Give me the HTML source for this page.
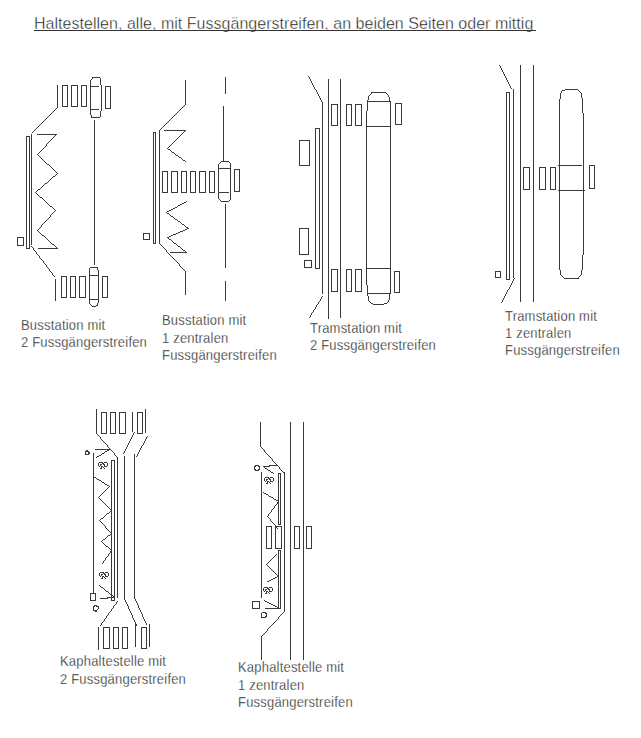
<!DOCTYPE html>
<html><head><meta charset="utf-8"><style>
html,body{margin:0;padding:0;background:#fff;}
body{width:641px;height:738px;position:relative;overflow:hidden;}
svg{position:absolute;left:0;top:0;}
.lbl{font-family:"Liberation Sans",sans-serif;font-size:13px;fill:#111;letter-spacing:0.2px;stroke:#fff;stroke-width:0.28px;}
.title{font-family:"Liberation Sans",sans-serif;font-size:16px;fill:#111;letter-spacing:0.03px;stroke:#fff;stroke-width:0.4px;}
</style></head><body>
<svg width="641" height="738" viewBox="0 0 641 738"><path fill="#3a3a3a" shape-rendering="crispEdges" d="M17 237h1v9h-1zM23 237h1v9h-1zM26 136h1v113h-1zM29 136h1v113h-1zM31 134h1v111h-1zM55 279h1v22h-1zM57 85h1v23h-1zM61 276h1v22h-1zM62 85h1v22h-1zM66 276h1v22h-1zM67 85h1v22h-1zM70 276h1v22h-1zM71 85h1v22h-1zM75 276h1v22h-1zM77 85h1v22h-1zM79 276h1v22h-1zM81 85h1v22h-1zM85 276h1v22h-1zM85 451h1v4h-1zM86 85h1v22h-1zM88 451h1v4h-1zM89 268h1v36h-1zM90 80h1v35h-1zM90 593h1v8h-1zM91 115h1v3h-1zM93 453h1v141h-1zM93 606h1v5h-1zM94 120h1v145h-1zM95 593h1v8h-1zM96 409h1v25h-1zM97 267h1v3h-1zM97 303h1v3h-1zM98 270h1v33h-1zM98 463h1v3h-1zM98 606h1v3h-1zM98 627h1v23h-1zM99 573h1v3h-1zM100 78h1v7h-1zM100 111h1v6h-1zM101 85h1v26h-1zM101 412h1v22h-1zM101 466h1v3h-1zM102 276h1v22h-1zM102 576h1v3h-1zM103 627h1v22h-1zM104 464h1v3h-1zM105 86h1v23h-1zM105 574h1v3h-1zM106 412h1v22h-1zM107 276h1v22h-1zM107 463h1v3h-1zM108 573h1v3h-1zM109 627h1v22h-1zM110 86h1v23h-1zM110 412h1v22h-1zM111 460h1v141h-1zM113 627h1v22h-1zM114 460h1v141h-1zM115 412h1v22h-1zM117 457h1v141h-1zM118 627h1v22h-1zM119 412h1v22h-1zM122 627h1v22h-1zM124 456h1v144h-1zM125 412h1v22h-1zM127 627h1v22h-1zM128 606h1v3h-1zM132 412h1v20h-1zM132 615h1v3h-1zM134 454h1v145h-1zM135 622h1v25h-1zM137 412h1v22h-1zM138 605h1v3h-1zM141 627h1v22h-1zM142 412h1v22h-1zM142 614h1v3h-1zM143 233h1v7h-1zM145 409h1v24h-1zM146 627h1v22h-1zM149 233h1v7h-1zM149 624h1v23h-1zM153 132h1v112h-1zM155 132h1v112h-1zM159 130h1v114h-1zM162 171h1v22h-1zM167 171h1v22h-1zM171 171h1v22h-1zM177 171h1v22h-1zM181 171h1v22h-1zM185 80h1v25h-1zM185 271h1v24h-1zM186 171h1v22h-1zM190 171h1v22h-1zM195 171h1v22h-1zM199 171h1v22h-1zM205 171h1v22h-1zM209 171h1v22h-1zM214 171h1v22h-1zM218 164h1v35h-1zM223 106h1v56h-1zM225 77h1v17h-1zM225 204h1v64h-1zM225 281h1v20h-1zM230 163h1v37h-1zM234 169h1v23h-1zM239 169h1v23h-1zM252 601h1v8h-1zM254 466h1v4h-1zM259 466h1v4h-1zM259 601h1v8h-1zM260 422h1v25h-1zM261 472h1v126h-1zM261 613h1v5h-1zM261 636h1v24h-1zM263 588h1v3h-1zM264 478h1v3h-1zM266 526h1v23h-1zM266 591h1v3h-1zM266 613h1v4h-1zM267 481h1v3h-1zM269 589h1v3h-1zM270 479h1v3h-1zM271 526h1v23h-1zM272 588h1v3h-1zM273 478h1v3h-1zM275 525h1v24h-1zM278 473h1v52h-1zM278 550h1v59h-1zM280 473h1v52h-1zM280 550h1v59h-1zM281 526h1v23h-1zM284 472h1v140h-1zM290 422h1v238h-1zM294 526h1v23h-1zM299 140h1v26h-1zM299 228h1v27h-1zM299 526h1v23h-1zM303 422h1v238h-1zM304 260h1v8h-1zM306 526h1v23h-1zM308 228h1v27h-1zM309 140h1v26h-1zM311 260h1v8h-1zM311 526h1v23h-1zM315 128h1v141h-1zM319 128h1v141h-1zM322 102h1v192h-1zM328 79h1v240h-1zM331 104h1v22h-1zM331 269h1v23h-1zM337 104h1v22h-1zM337 269h1v23h-1zM340 79h1v239h-1zM346 104h1v22h-1zM346 269h1v23h-1zM351 104h1v22h-1zM351 269h1v23h-1zM355 104h1v22h-1zM355 269h1v23h-1zM361 104h1v22h-1zM361 269h1v23h-1zM366 111h1v174h-1zM367 100h1v11h-1zM367 285h1v11h-1zM368 96h1v4h-1zM368 296h1v5h-1zM389 97h1v5h-1zM389 293h1v7h-1zM390 101h1v193h-1zM394 271h1v22h-1zM395 103h1v22h-1zM399 271h1v22h-1zM401 103h1v22h-1zM495 271h1v7h-1zM500 271h1v7h-1zM506 92h1v188h-1zM509 92h1v188h-1zM513 89h1v189h-1zM520 65h1v237h-1zM523 167h1v23h-1zM529 167h1v23h-1zM533 65h1v237h-1zM539 167h1v23h-1zM545 167h1v23h-1zM550 167h1v23h-1zM555 167h1v23h-1zM559 99h1v171h-1zM560 93h1v6h-1zM560 270h1v5h-1zM581 93h1v5h-1zM581 270h1v5h-1zM582 98h1v15h-1zM582 255h1v15h-1zM583 113h1v142h-1zM589 165h1v24h-1zM594 165h1v24h-1zM499 65h1v1h-1zM500 66h1v1h-1zM500 67h1v1h-1zM501 68h1v1h-1zM501 69h1v1h-1zM502 70h1v1h-1zM502 71h1v1h-1zM503 72h1v1h-1zM503 73h1v1h-1zM504 74h1v1h-1zM504 75h1v1h-1zM308 76h1v1h-1zM505 76h1v1h-1zM92 77h8v1h-8zM309 77h1v1h-1zM505 77h1v1h-1zM92 78h1v1h-1zM309 78h1v1h-1zM506 78h1v1h-1zM91 79h1v1h-1zM310 79h1v1h-1zM506 79h1v1h-1zM310 80h1v1h-1zM507 80h1v1h-1zM311 81h1v1h-1zM507 81h1v1h-1zM311 82h1v1h-1zM508 82h1v1h-1zM312 83h1v1h-1zM508 83h1v1h-1zM312 84h1v1h-1zM509 84h1v1h-1zM63 85h4v1h-4zM72 85h5v1h-5zM82 85h4v1h-4zM313 85h1v1h-1zM509 85h1v1h-1zM91 86h8v1h-8zM106 86h4v1h-4zM313 86h1v1h-1zM510 86h1v1h-1zM314 87h1v1h-1zM510 87h1v1h-1zM314 88h1v1h-1zM511 88h1v1h-1zM315 89h1v1h-1zM565 89h13v1h-13zM316 90h1v1h-1zM562 90h3v1h-3zM578 90h1v1h-1zM316 91h1v1h-1zM561 91h1v1h-1zM579 91h1v1h-1zM317 92h1v1h-1zM371 92h15v1h-15zM507 92h2v1h-2zM561 92h1v1h-1zM580 92h1v1h-1zM317 93h1v1h-1zM371 93h1v1h-1zM386 93h1v1h-1zM318 94h1v1h-1zM370 94h1v1h-1zM387 94h1v1h-1zM318 95h1v1h-1zM369 95h1v1h-1zM388 95h1v1h-1zM319 96h1v1h-1zM388 96h1v1h-1zM319 97h1v1h-1zM320 98h1v1h-1zM320 99h1v1h-1zM321 100h1v1h-1zM321 101h1v1h-1zM368 101h21v1h-21zM396 103h5v1h-5zM332 104h5v1h-5zM347 104h4v1h-4zM356 104h5v1h-5zM184 105h1v1h-1zM63 106h4v1h-4zM72 106h5v1h-5zM82 106h4v1h-4zM183 106h1v1h-1zM182 107h1v1h-1zM56 108h1v1h-1zM106 108h4v1h-4zM181 108h1v1h-1zM55 109h1v1h-1zM91 109h8v1h-8zM180 109h1v1h-1zM54 110h1v1h-1zM179 110h1v1h-1zM53 111h1v1h-1zM178 111h1v1h-1zM52 112h1v1h-1zM177 112h1v1h-1zM51 113h1v1h-1zM176 113h1v1h-1zM50 114h1v1h-1zM175 114h1v1h-1zM49 115h1v1h-1zM174 115h1v1h-1zM48 116h1v1h-1zM173 116h1v1h-1zM47 117h1v1h-1zM92 117h8v1h-8zM172 117h1v1h-1zM46 118h1v1h-1zM171 118h1v1h-1zM45 119h1v1h-1zM170 119h1v1h-1zM44 120h1v1h-1zM169 120h1v1h-1zM43 121h1v1h-1zM168 121h1v1h-1zM42 122h1v1h-1zM167 122h1v1h-1zM41 123h1v1h-1zM166 123h1v1h-1zM40 124h1v1h-1zM165 124h1v1h-1zM396 124h5v1h-5zM39 125h1v1h-1zM164 125h1v1h-1zM332 125h5v1h-5zM347 125h4v1h-4zM356 125h5v1h-5zM38 126h1v1h-1zM163 126h1v1h-1zM367 126h23v1h-23zM37 127h1v1h-1zM162 127h1v1h-1zM36 128h1v1h-1zM161 128h1v1h-1zM316 128h3v1h-3zM35 129h1v1h-1zM160 129h1v1h-1zM34 130h1v1h-1zM164 130h22v1h-22zM33 131h1v1h-1zM184 131h1v1h-1zM32 132h1v1h-1zM154 132h1v1h-1zM183 132h1v1h-1zM182 133h1v1h-1zM37 134h20v1h-20zM181 134h1v1h-1zM55 135h1v1h-1zM180 135h1v1h-1zM27 136h2v1h-2zM54 136h1v1h-1zM179 136h1v1h-1zM53 137h1v1h-1zM178 137h1v1h-1zM52 138h1v1h-1zM177 138h1v1h-1zM51 139h1v1h-1zM176 139h1v1h-1zM50 140h1v1h-1zM175 140h1v1h-1zM300 140h9v1h-9zM49 141h1v1h-1zM174 141h1v1h-1zM48 142h1v1h-1zM173 142h1v1h-1zM47 143h1v1h-1zM172 143h1v1h-1zM46 144h1v1h-1zM171 144h1v1h-1zM46 145h1v1h-1zM170 145h1v1h-1zM45 146h1v1h-1zM169 146h1v1h-1zM44 147h1v1h-1zM168 147h1v1h-1zM43 148h1v1h-1zM167 148h1v1h-1zM42 149h1v1h-1zM168 149h2v1h-2zM41 150h1v1h-1zM170 150h1v1h-1zM40 151h1v1h-1zM171 151h1v1h-1zM39 152h1v1h-1zM172 152h2v1h-2zM38 153h1v1h-1zM174 153h1v1h-1zM37 154h1v1h-1zM175 154h1v1h-1zM38 155h1v1h-1zM176 155h2v1h-2zM39 156h1v1h-1zM178 156h1v1h-1zM40 157h1v1h-1zM179 157h2v1h-2zM41 158h1v1h-1zM181 158h1v1h-1zM42 159h1v1h-1zM182 159h1v1h-1zM43 160h1v1h-1zM183 160h2v1h-2zM44 161h1v1h-1zM185 161h1v1h-1zM221 161h2v1h-2zM224 161h5v1h-5zM45 162h1v1h-1zM220 162h1v1h-1zM229 162h1v1h-1zM46 163h1v1h-1zM219 163h1v1h-1zM47 164h2v1h-2zM49 165h1v1h-1zM300 165h9v1h-9zM558 165h1v1h-1zM560 165h22v1h-22zM590 165h4v1h-4zM50 166h1v1h-1zM51 167h1v1h-1zM524 167h5v1h-5zM540 167h5v1h-5zM551 167h4v1h-4zM52 168h1v1h-1zM219 168h11v1h-11zM53 169h1v1h-1zM235 169h4v1h-4zM54 170h1v1h-1zM55 171h1v1h-1zM163 171h4v1h-4zM172 171h5v1h-5zM182 171h4v1h-4zM191 171h4v1h-4zM200 171h5v1h-5zM210 171h4v1h-4zM56 172h1v1h-1zM57 173h1v1h-1zM56 174h1v1h-1zM55 175h1v1h-1zM53 176h2v1h-2zM52 177h1v1h-1zM51 178h1v1h-1zM50 179h1v1h-1zM49 180h1v1h-1zM48 181h1v1h-1zM47 182h1v1h-1zM45 183h2v1h-2zM44 184h1v1h-1zM43 185h1v1h-1zM42 186h1v1h-1zM41 187h1v1h-1zM40 188h1v1h-1zM590 188h4v1h-4zM38 189h2v1h-2zM524 189h5v1h-5zM540 189h5v1h-5zM551 189h4v1h-4zM37 190h1v1h-1zM558 190h1v1h-1zM560 190h23v1h-23zM584 190h1v1h-1zM36 191h1v1h-1zM235 191h4v1h-4zM35 192h1v1h-1zM163 192h4v1h-4zM172 192h5v1h-5zM182 192h4v1h-4zM191 192h4v1h-4zM200 192h5v1h-5zM210 192h4v1h-4zM219 192h10v1h-10zM36 193h1v1h-1zM37 194h1v1h-1zM38 195h1v1h-1zM39 196h1v1h-1zM40 197h2v1h-2zM42 198h1v1h-1zM43 199h1v1h-1zM219 199h1v1h-1zM44 200h1v1h-1zM220 200h1v1h-1zM229 200h1v1h-1zM45 201h1v1h-1zM186 201h1v1h-1zM221 201h8v1h-8zM46 202h1v1h-1zM184 202h2v1h-2zM47 203h1v1h-1zM182 203h2v1h-2zM48 204h1v1h-1zM180 204h2v1h-2zM49 205h1v1h-1zM178 205h2v1h-2zM50 206h2v1h-2zM177 206h1v1h-1zM52 207h1v1h-1zM175 207h2v1h-2zM53 208h1v1h-1zM173 208h2v1h-2zM54 209h1v1h-1zM171 209h2v1h-2zM55 210h1v1h-1zM169 210h2v1h-2zM54 211h1v1h-1zM167 211h2v1h-2zM53 212h1v1h-1zM166 212h1v1h-1zM52 213h1v1h-1zM167 213h2v1h-2zM51 214h1v1h-1zM169 214h1v1h-1zM50 215h1v1h-1zM170 215h1v1h-1zM50 216h1v1h-1zM171 216h2v1h-2zM49 217h1v1h-1zM173 217h1v1h-1zM48 218h1v1h-1zM174 218h1v1h-1zM47 219h1v1h-1zM175 219h2v1h-2zM46 220h1v1h-1zM177 220h1v1h-1zM45 221h1v1h-1zM178 221h2v1h-2zM44 222h1v1h-1zM180 222h1v1h-1zM43 223h1v1h-1zM181 223h1v1h-1zM42 224h1v1h-1zM182 224h2v1h-2zM41 225h1v1h-1zM184 225h1v1h-1zM41 226h1v1h-1zM185 226h1v1h-1zM40 227h1v1h-1zM186 227h2v1h-2zM39 228h1v1h-1zM187 228h2v1h-2zM300 228h8v1h-8zM38 229h1v1h-1zM185 229h2v1h-2zM37 230h1v1h-1zM183 230h2v1h-2zM38 231h1v1h-1zM180 231h3v1h-3zM39 232h1v1h-1zM178 232h2v1h-2zM40 233h1v1h-1zM144 233h5v1h-5zM176 233h2v1h-2zM41 234h1v1h-1zM173 234h3v1h-3zM42 235h2v1h-2zM171 235h2v1h-2zM44 236h1v1h-1zM169 236h2v1h-2zM18 237h5v1h-5zM45 237h1v1h-1zM167 237h2v1h-2zM46 238h1v1h-1zM168 238h1v1h-1zM47 239h1v1h-1zM144 239h5v1h-5zM169 239h2v1h-2zM48 240h1v1h-1zM171 240h1v1h-1zM49 241h1v1h-1zM172 241h1v1h-1zM50 242h1v1h-1zM173 242h1v1h-1zM51 243h1v1h-1zM154 243h1v1h-1zM174 243h2v1h-2zM52 244h2v1h-2zM160 244h1v1h-1zM176 244h1v1h-1zM18 245h5v1h-5zM54 245h1v1h-1zM161 245h1v1h-1zM177 245h1v1h-1zM31 246h1v1h-1zM55 246h1v1h-1zM162 246h1v1h-1zM178 246h2v1h-2zM32 247h1v1h-1zM56 247h1v1h-1zM163 247h1v1h-1zM180 247h1v1h-1zM27 248h2v1h-2zM33 248h1v1h-1zM38 248h20v1h-20zM164 248h1v1h-1zM181 248h1v1h-1zM33 249h1v1h-1zM165 249h1v1h-1zM182 249h1v1h-1zM34 250h1v1h-1zM166 250h1v1h-1zM183 250h2v1h-2zM35 251h1v1h-1zM166 251h1v1h-1zM185 251h1v1h-1zM36 252h1v1h-1zM167 252h1v1h-1zM170 252h17v1h-17zM36 253h1v1h-1zM168 253h1v1h-1zM37 254h1v1h-1zM169 254h1v1h-1zM300 254h8v1h-8zM38 255h1v1h-1zM170 255h1v1h-1zM39 256h1v1h-1zM171 256h1v1h-1zM39 257h1v1h-1zM172 257h1v1h-1zM40 258h1v1h-1zM173 258h1v1h-1zM41 259h1v1h-1zM174 259h1v1h-1zM42 260h1v1h-1zM175 260h1v1h-1zM305 260h6v1h-6zM43 261h1v1h-1zM176 261h1v1h-1zM43 262h1v1h-1zM177 262h1v1h-1zM44 263h1v1h-1zM178 263h1v1h-1zM45 264h1v1h-1zM179 264h1v1h-1zM46 265h1v1h-1zM179 265h1v1h-1zM46 266h1v1h-1zM180 266h1v1h-1zM47 267h1v1h-1zM90 267h7v1h-7zM181 267h1v1h-1zM305 267h6v1h-6zM48 268h1v1h-1zM182 268h1v1h-1zM316 268h3v1h-3zM367 268h23v1h-23zM49 269h1v1h-1zM183 269h1v1h-1zM332 269h5v1h-5zM347 269h4v1h-4zM356 269h5v1h-5zM49 270h1v1h-1zM184 270h1v1h-1zM50 271h1v1h-1zM395 271h4v1h-4zM496 271h4v1h-4zM51 272h1v1h-1zM52 273h1v1h-1zM52 274h1v1h-1zM53 275h1v1h-1zM90 275h8v1h-8zM561 275h1v1h-1zM580 275h1v1h-1zM54 276h1v1h-1zM62 276h4v1h-4zM71 276h4v1h-4zM80 276h5v1h-5zM103 276h4v1h-4zM562 276h1v1h-1zM579 276h1v1h-1zM496 277h4v1h-4zM563 277h1v1h-1zM578 277h1v1h-1zM514 278h1v1h-1zM564 278h15v1h-15zM507 279h2v1h-2zM513 279h1v1h-1zM513 280h1v1h-1zM512 281h1v1h-1zM512 282h1v1h-1zM511 283h1v1h-1zM511 284h1v1h-1zM510 285h1v1h-1zM510 286h1v1h-1zM509 287h1v1h-1zM509 288h1v1h-1zM508 289h1v1h-1zM507 290h1v1h-1zM332 291h5v1h-5zM347 291h4v1h-4zM356 291h5v1h-5zM507 291h1v1h-1zM395 292h4v1h-4zM506 292h1v1h-1zM368 293h21v1h-21zM506 293h1v1h-1zM505 294h1v1h-1zM505 295h1v1h-1zM322 296h1v1h-1zM504 296h1v1h-1zM62 297h4v1h-4zM71 297h4v1h-4zM80 297h5v1h-5zM103 297h4v1h-4zM321 297h1v1h-1zM504 297h1v1h-1zM321 298h1v1h-1zM503 298h1v1h-1zM90 299h8v1h-8zM320 299h1v1h-1zM503 299h1v1h-1zM320 300h1v1h-1zM388 300h1v1h-1zM502 300h1v1h-1zM319 301h1v1h-1zM369 301h1v1h-1zM388 301h1v1h-1zM502 301h1v1h-1zM318 302h1v1h-1zM370 302h1v1h-1zM387 302h1v1h-1zM501 302h1v1h-1zM318 303h1v1h-1zM371 303h2v1h-2zM384 303h3v1h-3zM90 304h1v1h-1zM317 304h1v1h-1zM373 304h11v1h-11zM91 305h1v1h-1zM96 305h1v1h-1zM316 305h1v1h-1zM92 306h4v1h-4zM316 306h1v1h-1zM315 307h1v1h-1zM315 308h1v1h-1zM314 309h1v1h-1zM313 310h1v1h-1zM313 311h1v1h-1zM312 312h1v1h-1zM311 313h1v1h-1zM311 314h1v1h-1zM310 315h1v1h-1zM310 316h1v1h-1zM309 317h1v1h-1zM102 412h4v1h-4zM111 412h4v1h-4zM120 412h5v1h-5zM138 412h4v1h-4zM134 432h1v1h-1zM102 433h4v1h-4zM111 433h4v1h-4zM120 433h5v1h-5zM133 433h1v1h-1zM138 433h4v1h-4zM97 434h1v1h-1zM133 434h1v1h-1zM98 435h1v1h-1zM132 435h1v1h-1zM99 436h1v1h-1zM132 436h1v1h-1zM147 436h1v1h-1zM100 437h1v1h-1zM131 437h1v1h-1zM146 437h1v1h-1zM100 438h1v1h-1zM131 438h1v1h-1zM146 438h1v1h-1zM101 439h1v1h-1zM130 439h1v1h-1zM145 439h1v1h-1zM102 440h1v1h-1zM130 440h1v1h-1zM145 440h1v1h-1zM103 441h1v1h-1zM129 441h1v1h-1zM144 441h1v1h-1zM104 442h1v1h-1zM129 442h1v1h-1zM144 442h1v1h-1zM105 443h1v1h-1zM128 443h1v1h-1zM143 443h1v1h-1zM106 444h1v1h-1zM128 444h1v1h-1zM143 444h1v1h-1zM107 445h1v1h-1zM127 445h1v1h-1zM142 445h1v1h-1zM107 446h1v1h-1zM127 446h1v1h-1zM141 446h1v1h-1zM108 447h1v1h-1zM126 447h1v1h-1zM141 447h1v1h-1zM261 447h1v1h-1zM109 448h1v1h-1zM126 448h1v1h-1zM140 448h1v1h-1zM262 448h1v1h-1zM95 449h16v1h-16zM125 449h1v1h-1zM140 449h1v1h-1zM263 449h1v1h-1zM86 450h2v1h-2zM107 450h2v1h-2zM111 450h1v1h-1zM125 450h1v1h-1zM139 450h1v1h-1zM264 450h1v1h-1zM86 451h2v1h-2zM105 451h2v1h-2zM112 451h1v1h-1zM124 451h1v1h-1zM139 451h1v1h-1zM264 451h1v1h-1zM89 452h1v1h-1zM104 452h1v1h-1zM113 452h1v1h-1zM124 452h1v1h-1zM138 452h1v1h-1zM265 452h1v1h-1zM89 453h1v1h-1zM102 453h2v1h-2zM114 453h1v1h-1zM123 453h1v1h-1zM138 453h1v1h-1zM266 453h1v1h-1zM86 454h2v1h-2zM101 454h1v1h-1zM114 454h1v1h-1zM137 454h1v1h-1zM267 454h1v1h-1zM99 455h2v1h-2zM115 455h1v1h-1zM137 455h1v1h-1zM268 455h1v1h-1zM97 456h2v1h-2zM116 456h1v1h-1zM136 456h1v1h-1zM269 456h1v1h-1zM96 457h1v1h-1zM270 457h1v1h-1zM271 458h1v1h-1zM272 459h1v1h-1zM112 460h2v1h-2zM272 460h1v1h-1zM273 461h1v1h-1zM99 462h4v1h-4zM104 462h3v1h-3zM274 462h1v1h-1zM102 463h2v1h-2zM275 463h1v1h-1zM100 464h2v1h-2zM103 464h1v1h-1zM276 464h1v1h-1zM100 465h1v1h-1zM255 465h4v1h-4zM269 465h9v1h-9zM99 466h1v1h-1zM102 466h1v1h-1zM105 466h2v1h-2zM255 466h1v1h-1zM258 466h1v1h-1zM263 466h7v1h-7zM278 466h1v1h-1zM103 467h1v1h-1zM264 467h1v1h-1zM279 467h1v1h-1zM100 468h1v1h-1zM104 468h1v1h-1zM265 468h2v1h-2zM279 468h1v1h-1zM255 469h1v1h-1zM258 469h1v1h-1zM267 469h1v1h-1zM280 469h1v1h-1zM255 470h4v1h-4zM268 470h2v1h-2zM281 470h1v1h-1zM270 471h1v1h-1zM282 471h1v1h-1zM271 472h2v1h-2zM283 472h1v1h-1zM273 473h1v1h-1zM279 473h1v1h-1zM94 477h2v1h-2zM265 477h4v1h-4zM270 477h3v1h-3zM96 478h1v1h-1zM268 478h2v1h-2zM97 479h2v1h-2zM266 479h2v1h-2zM269 479h1v1h-1zM99 480h2v1h-2zM266 480h1v1h-1zM101 481h1v1h-1zM265 481h1v1h-1zM268 481h1v1h-1zM271 481h2v1h-2zM102 482h2v1h-2zM269 482h1v1h-1zM104 483h1v1h-1zM266 483h1v1h-1zM270 483h1v1h-1zM105 484h2v1h-2zM107 485h2v1h-2zM109 486h1v1h-1zM108 487h1v1h-1zM107 488h1v1h-1zM106 489h1v1h-1zM105 490h1v1h-1zM104 491h1v1h-1zM103 492h1v1h-1zM263 492h1v1h-1zM102 493h1v1h-1zM264 493h2v1h-2zM101 494h1v1h-1zM266 494h2v1h-2zM100 495h1v1h-1zM268 495h1v1h-1zM99 496h1v1h-1zM269 496h2v1h-2zM98 497h1v1h-1zM271 497h2v1h-2zM99 498h1v1h-1zM273 498h1v1h-1zM100 499h1v1h-1zM274 499h2v1h-2zM101 500h1v1h-1zM276 500h2v1h-2zM102 501h1v1h-1zM103 502h1v1h-1zM277 502h1v1h-1zM104 503h1v1h-1zM277 503h1v1h-1zM105 504h1v1h-1zM276 504h1v1h-1zM106 505h1v1h-1zM275 505h1v1h-1zM107 506h1v1h-1zM274 506h1v1h-1zM108 507h1v1h-1zM274 507h1v1h-1zM109 508h1v1h-1zM273 508h1v1h-1zM110 509h1v1h-1zM272 509h1v1h-1zM271 510h1v1h-1zM110 511h1v1h-1zM271 511h1v1h-1zM109 512h1v1h-1zM270 512h1v1h-1zM107 513h2v1h-2zM269 513h1v1h-1zM106 514h1v1h-1zM268 514h1v1h-1zM105 515h1v1h-1zM268 515h1v1h-1zM104 516h1v1h-1zM267 516h1v1h-1zM103 517h1v1h-1zM268 517h1v1h-1zM101 518h2v1h-2zM269 518h1v1h-1zM100 519h1v1h-1zM270 519h1v1h-1zM99 520h1v1h-1zM270 520h1v1h-1zM100 521h1v1h-1zM271 521h1v1h-1zM101 522h1v1h-1zM272 522h1v1h-1zM102 523h1v1h-1zM273 523h1v1h-1zM103 524h1v1h-1zM274 524h1v1h-1zM279 524h1v1h-1zM104 525h1v1h-1zM105 526h1v1h-1zM267 526h4v1h-4zM276 526h5v1h-5zM295 526h4v1h-4zM307 526h4v1h-4zM105 527h1v1h-1zM276 527h1v1h-1zM106 528h1v1h-1zM277 528h1v1h-1zM107 529h1v1h-1zM108 530h1v1h-1zM109 531h1v1h-1zM110 532h1v1h-1zM110 534h1v1h-1zM108 535h2v1h-2zM107 536h1v1h-1zM106 537h1v1h-1zM105 538h1v1h-1zM103 539h2v1h-2zM102 540h1v1h-1zM101 541h1v1h-1zM102 542h1v1h-1zM103 543h1v1h-1zM104 544h1v1h-1zM105 545h1v1h-1zM106 546h2v1h-2zM108 547h1v1h-1zM109 548h1v1h-1zM267 548h4v1h-4zM276 548h5v1h-5zM295 548h4v1h-4zM307 548h4v1h-4zM110 549h1v1h-1zM279 550h1v1h-1zM110 551h1v1h-1zM110 552h1v1h-1zM109 553h1v1h-1zM108 554h1v1h-1zM276 554h1v1h-1zM108 555h1v1h-1zM275 555h1v1h-1zM107 556h1v1h-1zM274 556h1v1h-1zM106 557h1v1h-1zM273 557h1v1h-1zM105 558h1v1h-1zM272 558h1v1h-1zM105 559h1v1h-1zM271 559h1v1h-1zM104 560h1v1h-1zM270 560h1v1h-1zM103 561h1v1h-1zM269 561h1v1h-1zM103 562h1v1h-1zM268 562h1v1h-1zM102 563h1v1h-1zM267 563h1v1h-1zM266 564h1v1h-1zM267 565h1v1h-1zM268 566h1v1h-1zM269 567h1v1h-1zM270 568h1v1h-1zM271 569h1v1h-1zM272 570h1v1h-1zM273 571h1v1h-1zM100 572h4v1h-4zM105 572h3v1h-3zM274 572h1v1h-1zM103 573h2v1h-2zM275 573h1v1h-1zM101 574h2v1h-2zM104 574h1v1h-1zM276 574h1v1h-1zM101 575h1v1h-1zM277 575h1v1h-1zM100 576h1v1h-1zM103 576h1v1h-1zM106 576h2v1h-2zM277 576h1v1h-1zM104 577h1v1h-1zM275 577h2v1h-2zM101 578h1v1h-1zM105 578h1v1h-1zM273 578h2v1h-2zM271 579h2v1h-2zM269 580h2v1h-2zM267 581h2v1h-2zM99 585h1v1h-1zM100 586h1v1h-1zM101 587h2v1h-2zM264 587h4v1h-4zM269 587h3v1h-3zM103 588h1v1h-1zM267 588h2v1h-2zM104 589h1v1h-1zM265 589h2v1h-2zM268 589h1v1h-1zM105 590h1v1h-1zM265 590h1v1h-1zM106 591h2v1h-2zM264 591h1v1h-1zM267 591h1v1h-1zM270 591h2v1h-2zM108 592h1v1h-1zM268 592h1v1h-1zM91 593h2v1h-2zM94 593h1v1h-1zM109 593h1v1h-1zM265 593h1v1h-1zM269 593h1v1h-1zM110 594h1v1h-1zM112 595h1v1h-1zM113 596h1v1h-1zM107 597h4v1h-4zM112 597h2v1h-2zM100 598h8v1h-8zM135 599h1v1h-1zM91 600h4v1h-4zM112 600h2v1h-2zM125 600h1v1h-1zM135 600h1v1h-1zM264 600h1v1h-1zM117 601h1v1h-1zM125 601h1v1h-1zM136 601h1v1h-1zM253 601h6v1h-6zM265 601h2v1h-2zM116 602h1v1h-1zM126 602h1v1h-1zM136 602h1v1h-1zM267 602h2v1h-2zM116 603h1v1h-1zM126 603h1v1h-1zM137 603h1v1h-1zM269 603h2v1h-2zM115 604h1v1h-1zM127 604h1v1h-1zM137 604h1v1h-1zM271 604h2v1h-2zM94 605h3v1h-3zM114 605h1v1h-1zM127 605h1v1h-1zM273 605h2v1h-2zM94 606h1v1h-1zM96 606h2v1h-2zM113 606h1v1h-1zM275 606h2v1h-2zM113 607h1v1h-1zM277 607h1v1h-1zM112 608h1v1h-1zM139 608h1v1h-1zM253 608h6v1h-6zM265 608h13v1h-13zM279 608h1v1h-1zM97 609h1v1h-1zM111 609h1v1h-1zM129 609h1v1h-1zM139 609h1v1h-1zM94 610h3v1h-3zM111 610h1v1h-1zM129 610h1v1h-1zM140 610h1v1h-1zM95 611h2v1h-2zM110 611h1v1h-1zM130 611h1v1h-1zM140 611h1v1h-1zM109 612h1v1h-1zM130 612h1v1h-1zM141 612h1v1h-1zM262 612h4v1h-4zM283 612h1v1h-1zM108 613h1v1h-1zM131 613h1v1h-1zM141 613h1v1h-1zM265 613h1v1h-1zM282 613h1v1h-1zM108 614h1v1h-1zM131 614h1v1h-1zM281 614h1v1h-1zM107 615h1v1h-1zM280 615h1v1h-1zM106 616h1v1h-1zM265 616h1v1h-1zM279 616h1v1h-1zM106 617h1v1h-1zM143 617h1v1h-1zM262 617h4v1h-4zM278 617h1v1h-1zM105 618h1v1h-1zM133 618h1v1h-1zM143 618h1v1h-1zM278 618h1v1h-1zM104 619h1v1h-1zM133 619h1v1h-1zM144 619h1v1h-1zM277 619h1v1h-1zM104 620h1v1h-1zM134 620h1v1h-1zM144 620h1v1h-1zM276 620h1v1h-1zM103 621h1v1h-1zM134 621h1v1h-1zM145 621h1v1h-1zM275 621h1v1h-1zM102 622h1v1h-1zM145 622h1v1h-1zM274 622h1v1h-1zM101 623h1v1h-1zM146 623h1v1h-1zM273 623h1v1h-1zM101 624h1v1h-1zM136 624h1v1h-1zM146 624h1v1h-1zM272 624h1v1h-1zM100 625h1v1h-1zM136 625h1v1h-1zM271 625h1v1h-1zM270 626h1v1h-1zM104 627h5v1h-5zM114 627h4v1h-4zM123 627h4v1h-4zM142 627h4v1h-4zM269 627h1v1h-1zM268 628h1v1h-1zM267 629h1v1h-1zM267 630h1v1h-1zM266 631h1v1h-1zM265 632h1v1h-1zM264 633h1v1h-1zM263 634h1v1h-1zM262 635h1v1h-1zM104 648h5v1h-5zM114 648h4v1h-4zM123 648h4v1h-4zM142 648h4v1h-4z"/>
<text class="lbl" transform="translate(21,330) scale(1,1.1)">Busstation mit</text>
<text class="lbl" transform="translate(21,347) scale(1,1.1)">2 Fussgängerstreifen</text>
<text class="lbl" transform="translate(162,325) scale(1,1.1)">Busstation mit</text>
<text class="lbl" transform="translate(162,342.5) scale(1,1.1)">1 zentralen</text>
<text class="lbl" transform="translate(162,359.5) scale(1,1.1)">Fussgängerstreifen</text>
<text class="lbl" transform="translate(310,333) scale(1,1.1)">Tramstation mit</text>
<text class="lbl" transform="translate(310,350) scale(1,1.1)">2 Fussgängerstreifen</text>
<text class="lbl" transform="translate(505,321) scale(1,1.1)">Tramstation mit</text>
<text class="lbl" transform="translate(505,338) scale(1,1.1)">1 zentralen</text>
<text class="lbl" transform="translate(505,355) scale(1,1.1)">Fussgängerstreifen</text>
<text class="lbl" transform="translate(60,666) scale(1,1.1)">Kaphaltestelle mit</text>
<text class="lbl" transform="translate(60,684) scale(1,1.1)">2 Fussgängerstreifen</text>
<text class="lbl" transform="translate(238,672) scale(1,1.1)">Kaphaltestelle mit</text>
<text class="lbl" transform="translate(238,689.5) scale(1,1.1)">1 zentralen</text>
<text class="lbl" transform="translate(238,707) scale(1,1.1)">Fussgängerstreifen</text>
<text class="title" x="34" y="29">Haltestellen, alle, mit Fussgängerstreifen, an beiden Seiten oder mittig</text>
<rect x="34" y="30" width="502" height="1" fill="#333"/>
</svg>
</body></html>
